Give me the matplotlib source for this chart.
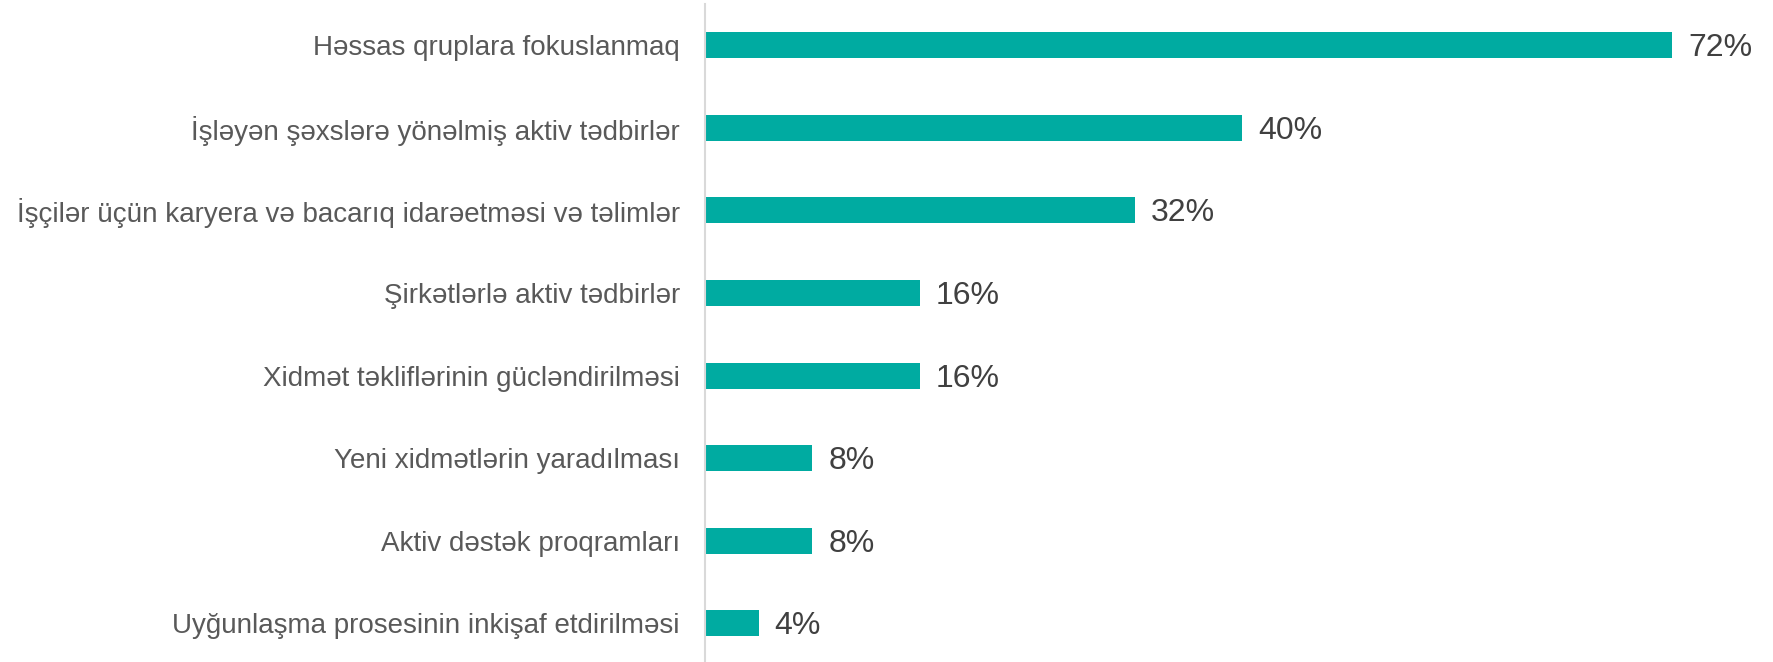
import matplotlib
matplotlib.use("Agg")
import matplotlib.pyplot as plt

categories = [
    "Həssas qruplara fokuslanmaq",
    "İşləyən şəxslərə yönəlmiş aktiv tədbirlər",
    "İşçilər üçün karyera və bacarıq idarəetməsi və təlimlər",
    "Şirkətlərlə aktiv tədbirlər",
    "Xidmət təkliflərinin gücləndirilməsi",
    "Yeni xidmətlərin yaradılması",
    "Aktiv dəstək proqramları",
    "Uyğunlaşma prosesinin inkişaf etdirilməsi",
]
values = [72, 40, 32, 16, 16, 8, 8, 4]
value_labels = [f"{v}%" for v in values]

plt.rcParams['font.family'] = ['Liberation Sans', 'DejaVu Sans']

fig = plt.figure(figsize=(17.73, 6.62), dpi=100)
ax = fig.add_axes([705/1773, 0.0, 1 - 705/1773 - 20/1773, 1 - 4/662])

ypos = list(range(len(categories)))
bars = ax.barh(ypos, values, height=0.315, color="#00ABA1", edgecolor="none")
for b, lab in zip(bars, value_labels):
    ax.annotate(lab, (b.get_width(), b.get_y() + b.get_height() / 2),
                xytext=(16, -3), textcoords="offset pixels",
                va="center", ha="left", fontsize=23, color="#404040")

ax.set_yticks(ypos)
ax.set_yticklabels(categories, fontsize=20, color="#595959")
ax.tick_params(axis="y", length=0, pad=18)
ax.set_ylim(len(categories) - 0.53, -0.5)
ax.set_xlim(0, 78)
ax.set_xticks([])
for s in ["top", "right", "bottom"]:
    ax.spines[s].set_visible(False)
ax.spines["left"].set_color("#d9d9d9")
ax.spines["left"].set_linewidth(1.5)

fig.savefig("out.png", dpi=100)
